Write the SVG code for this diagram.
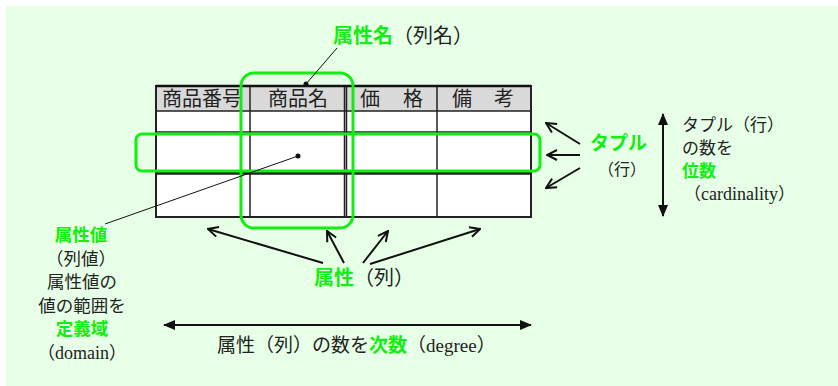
<svg xmlns="http://www.w3.org/2000/svg" width="838" height="386" viewBox="0 0 838 386">
<style>
.bk{font-family:"Noto Sans CJK JP",serif;fill:#222}
.lt{font-family:"Liberation Serif","DejaVu Serif",serif;fill:#222}
.gr{font-family:"Noto Sans CJK JP",sans-serif;font-weight:bold;fill:#11EE11}
.hd{font-family:"Noto Sans CJK JP",serif;fill:#222;font-size:20px}
.ln{stroke:#222;stroke-width:1.5;fill:none}
.ar{stroke:#111;stroke-width:2;fill:none;marker-end:url(#open)}
.da{stroke:#111;stroke-width:2;fill:none;marker-start:url(#fill2);marker-end:url(#fill)}
.hl{fill:none;stroke:#11EE11;stroke-width:3}
</style>
<defs>
<marker id="open" viewBox="0 0 12 12" refX="11" refY="6" markerWidth="12" markerHeight="12" markerUnits="userSpaceOnUse" orient="auto">
<path d="M1,1 L11,6 L1,11" fill="none" stroke="#111" stroke-width="2"/>
</marker>
<marker id="fill" viewBox="0 0 12 10" refX="11" refY="5" markerWidth="12" markerHeight="10" markerUnits="userSpaceOnUse" orient="auto">
<path d="M0,0 L12,5 L0,10 Z" fill="#111"/>
</marker>
<marker id="fill2" viewBox="0 0 12 10" refX="1" refY="5" markerWidth="12" markerHeight="10" markerUnits="userSpaceOnUse" orient="auto">
<path d="M12,0 L0,5 L12,10 Z" fill="#111"/>
</marker>
</defs>
<rect x="6" y="6" width="832" height="380" fill="#E6FFE6"/>

<g id="table">
<rect x="156" y="86" width="375" height="131" fill="#fff"/>
<rect x="156" y="86" width="375" height="25" fill="#D9D9D9"/>
<path class="ln" d="M156,111 H531 M156,132 H531 M156,172.5 H531 M156,174 H531 M250,86 V217 M344.5,86 V217 M346.5,86 V217 M437,86 V217"/>
<rect x="156" y="86" width="375" height="131" fill="none" stroke="#222" stroke-width="2"/>
<line x1="156" y1="86" x2="531" y2="86" stroke="#111" stroke-width="2.5"/>
<text class="hd" x="162" y="106">商品番号</text>
<text class="hd" x="268" y="106">商品名</text>
<text class="hd" x="360 382 403" y="106">価　格</text>
<text class="hd" x="452 473 494" y="106">備　考</text>
</g>

<g id="col-highlight">
<rect class="hl" x="241" y="73" width="112" height="155" rx="13"/>
</g>
<g id="row-highlight">
<rect class="hl" x="136" y="134" width="404" height="37" rx="6"/>
</g>

<g id="connectors">
<line x1="306" y1="84" x2="337" y2="48" stroke="#111" stroke-width="1"/>
<circle cx="306" cy="84" r="2.5" fill="#111"/>
<line x1="298" y1="156" x2="105" y2="224" stroke="#111" stroke-width="1"/>
<circle cx="298" cy="156" r="2.5" fill="#111"/>
<line class="ar" x1="580" y1="144" x2="546" y2="123"/>
<line class="ar" x1="580" y1="155" x2="547" y2="155"/>
<line class="ar" x1="580" y1="168" x2="546" y2="188"/>
<line class="da" x1="663" y1="114" x2="663" y2="216"/>
<line class="ar" x1="323" y1="263" x2="208" y2="229"/>
<line class="ar" x1="344" y1="263" x2="327" y2="231"/>
<line class="ar" x1="363" y1="263" x2="388" y2="231"/>
<line class="ar" x1="370" y1="264" x2="480" y2="229"/>
<line class="da" x1="164" y1="325" x2="531" y2="325"/>
</g>

<g id="label-attrname">
<text x="333" y="43" font-size="20"><tspan class="gr">属性名</tspan><tspan class="bk">（列名）</tspan></text>
</g>
<g id="label-tuple">
<text class="gr" x="590" y="150" font-size="19">タプル</text>
<text class="bk" x="598" y="175" font-size="16">（行）</text>
</g>
<g id="label-cardinality" font-size="17">
<text class="bk" x="682" y="131">タプル（行）</text>
<text class="bk" x="682" y="154">の数を</text>
<text class="gr" x="682" y="177">位数</text>
<text x="684" y="200"><tspan class="bk">（</tspan><tspan class="lt" font-size="18">cardinality</tspan><tspan class="bk">）</tspan></text>
</g>
<g id="label-attr">
<text x="314" y="285" font-size="20"><tspan class="gr">属性</tspan><tspan class="bk">（列）</tspan></text>
</g>
<g id="label-value" font-size="17.5" text-anchor="middle">
<text class="gr" x="81" y="241">属性値</text>
<text class="bk" x="81" y="264.5">（列値）</text>
<text class="bk" x="82" y="288">属性値の</text>
<text class="bk" x="82" y="311.5">値の範囲を</text>
<text class="gr" x="82" y="335">定義域</text>
<text x="82" y="358.5"><tspan class="bk">（</tspan><tspan class="lt" font-size="18">domain</tspan><tspan class="bk">）</tspan></text>
</g>
<g id="label-degree">
<text x="217" y="352" font-size="19"><tspan class="bk">属性（列）の数を</tspan><tspan class="gr">次数</tspan><tspan class="bk">（</tspan><tspan class="lt" font-size="19">degree</tspan><tspan class="bk">）</tspan></text>
</g>
</svg>
